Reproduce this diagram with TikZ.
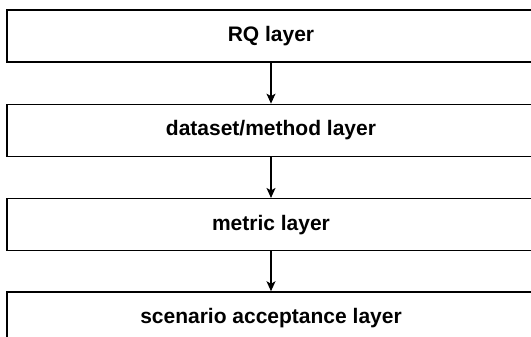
\documentclass[tikz,border=0pt]{standalone}
\usepackage{fontspec}
\setmainfont{Liberation Sans}
\usepackage{tikz}
\usetikzlibrary{arrows.meta,positioning}

\begin{document}
\begin{tikzpicture}[x=1pt,y=-1pt,>={Stealth[length=10pt,width=9pt,inset=2.5pt]},
    layerbox/.style={draw=black,line width=1.3pt,minimum width=528pt,minimum height=52pt,
      inner sep=0pt,font=\bfseries\fontsize{21}{24}\selectfont},
    layerarrow/.style={->,line width=1.2pt}]
  \useasboundingbox (0,0) rectangle (531,337);
  \node[layerbox] (rq) at (271,36) {RQ layer};
  \node[layerbox,below=41pt of rq] (dataset) {dataset/method layer};
  \node[layerbox,below=41pt of dataset] (metric) {metric layer};
  \node[layerbox,below=40pt of metric] (scenario) {scenario acceptance layer};
  \draw[layerarrow] (rq) -- (dataset);
  \draw[layerarrow] (dataset) -- (metric);
  \draw[layerarrow] (metric) -- (scenario);
\end{tikzpicture}
\end{document}
